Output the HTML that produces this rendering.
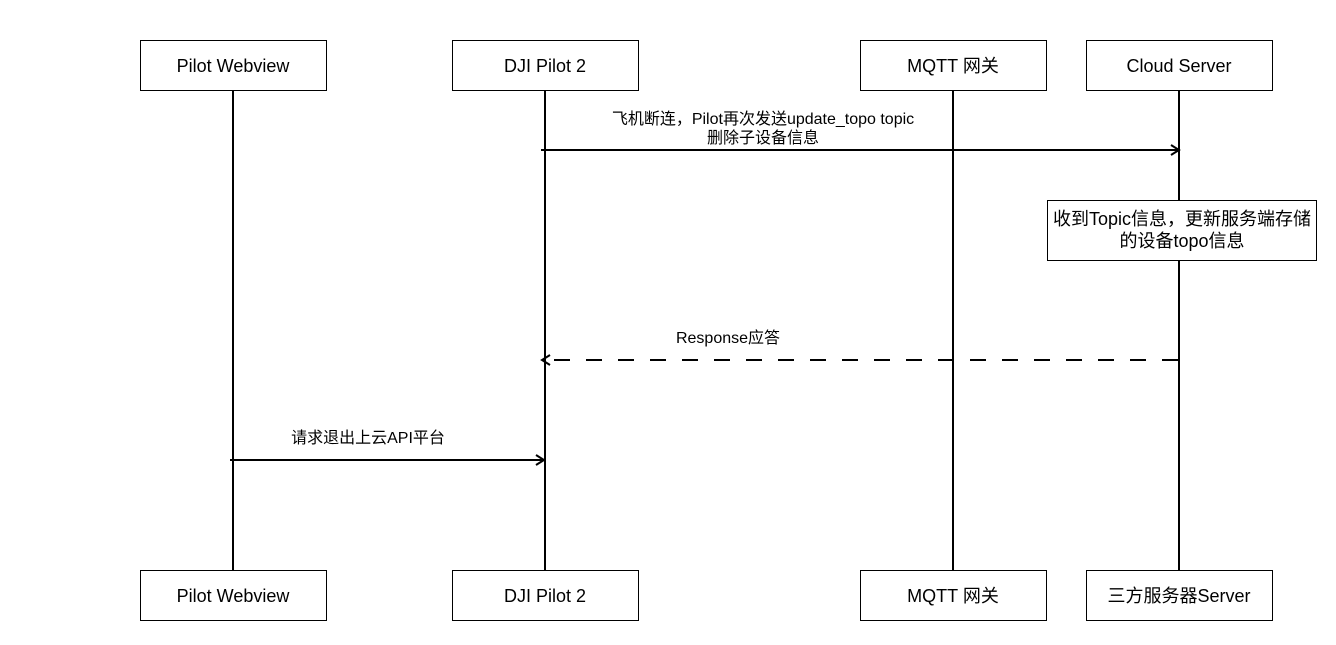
<!DOCTYPE html>
<html><head><meta charset="utf-8"><style>
html,body{margin:0;padding:0;background:#fff;}
svg text{font-family:"Liberation Sans","Noto Sans CJK SC",sans-serif;fill:#000;}
</style></head><body>
<svg width="1336" height="640" viewBox="0 0 1336 640" xmlns="http://www.w3.org/2000/svg">
<g stroke="#000" stroke-width="2" fill="none">
<line x1="233" y1="90" x2="233" y2="570"/>
<line x1="545" y1="90" x2="545" y2="570"/>
<line x1="953" y1="90" x2="953" y2="570"/>
<line x1="1179" y1="90" x2="1179" y2="570"/>
</g>
<g fill="#fff" stroke="#000" stroke-width="1">
<rect x="140.5" y="40.5" width="186" height="50"/>
<rect x="452.5" y="40.5" width="186" height="50"/>
<rect x="860.5" y="40.5" width="186" height="50"/>
<rect x="1086.5" y="40.5" width="186" height="50"/>
<rect x="140.5" y="570.5" width="186" height="50"/>
<rect x="452.5" y="570.5" width="186" height="50"/>
<rect x="860.5" y="570.5" width="186" height="50"/>
<rect x="1086.5" y="570.5" width="186" height="50"/>
<rect x="1047.5" y="200.5" width="269" height="60"/>
</g>
<g font-size="18" text-anchor="middle">
<text x="233" y="72">Pilot Webview</text>
<text x="545" y="72">DJI Pilot 2</text>
<text x="953" y="72">MQTT 网关</text>
<text x="1179" y="72">Cloud Server</text>
<text x="233" y="602">Pilot Webview</text>
<text x="545" y="602">DJI Pilot 2</text>
<text x="953" y="602">MQTT 网关</text>
<text x="1179" y="602">三方服务器Server</text>
<text x="1182" y="225">收到Topic信息，更新服务端存储</text>
<text x="1182" y="247">的设备topo信息</text>
</g>
<g font-size="16" text-anchor="middle">
<text x="763" y="124">飞机断连，Pilot再次发送update_topo topic</text>
<text x="763" y="143">删除子设备信息</text>
<text x="728" y="343">Response应答</text>
<text x="368" y="443">请求退出上云API平台</text>
</g>
<g stroke="#000" stroke-width="2" fill="none">
<line x1="541" y1="150" x2="1178" y2="150"/>
<polyline points="1171,145 1179,150 1171,155"/>
<line x1="1178" y1="360" x2="547" y2="360" stroke-dasharray="16,16"/>
<polyline points="550,355 542,360 550,365"/>
<line x1="230" y1="460" x2="544" y2="460"/>
<polyline points="536,455 544,460 536,465"/>
</g>
</svg>
</body></html>
